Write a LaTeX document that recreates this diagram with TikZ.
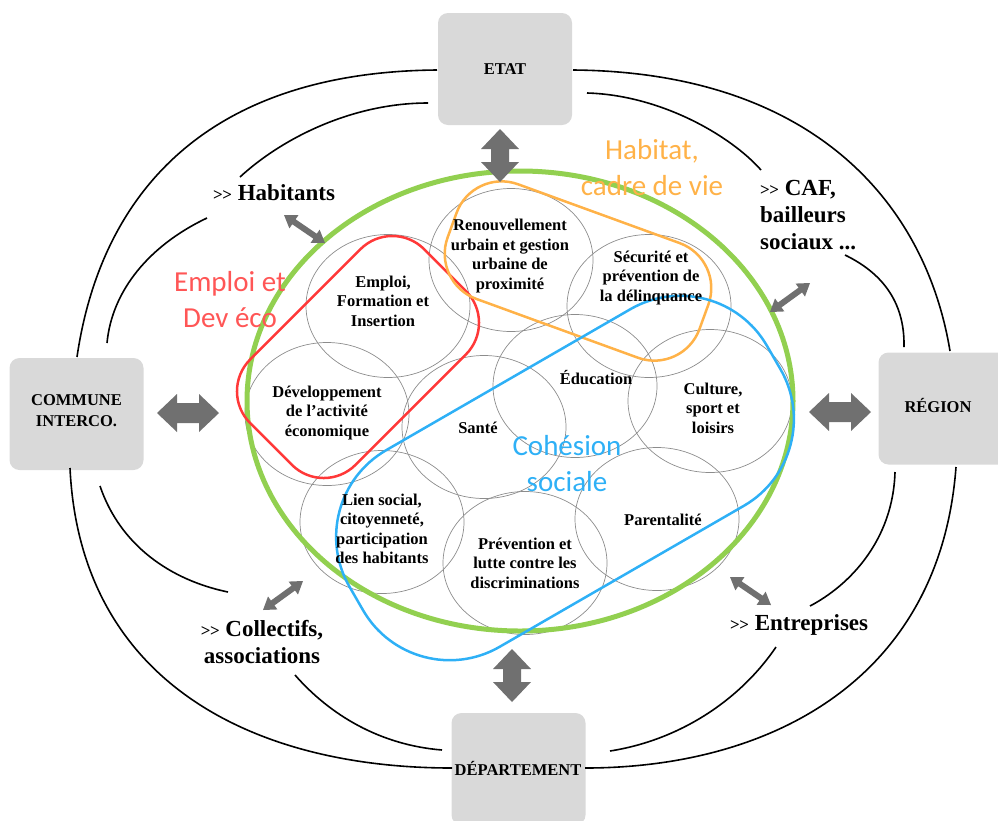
\documentclass[tikz,border=0pt]{standalone}
\usepackage{fontspec}
\setmainfont{Liberation Serif}
\newfontfamily\calib{Carlito}
\usetikzlibrary{shapes.geometric,calc}
\definecolor{boxgray}{RGB}{217,217,217}
\definecolor{arrowgray}{RGB}{112,112,112}
\definecolor{greenc}{RGB}{146,208,80}
\definecolor{redc}{RGB}{255,56,56}
\definecolor{orangec}{RGB}{255,178,72}
\definecolor{bluec}{RGB}{46,176,246}
\definecolor{ringgray}{RGB}{140,140,140}
\newcommand\chevr{{\fontsize{17}{17}\selectfont\bfseries >\kern-0.5pt>}}
% fat double arrow: #1 A, #2 B, #3 head length, #4 head half width, #5 shaft half width
\newcommand\fatdbl[5]{%
  \fill[arrowgray] (#1)
    -- ($(#1)!#3!(#2)!#4!90:(#2)$) -- ($(#1)!#3!(#2)!#5!90:(#2)$)
    -- ($(#2)!#3!(#1)!#5!-90:(#1)$) -- ($(#2)!#3!(#1)!#4!-90:(#1)$)
    -- (#2)
    -- ($(#2)!#3!(#1)!#4!90:(#1)$) -- ($(#2)!#3!(#1)!#5!90:(#1)$)
    -- ($(#1)!#3!(#2)!#5!-90:(#2)$) -- ($(#1)!#3!(#2)!#4!-90:(#2)$)
    -- cycle;}
\begin{document}
\begin{tikzpicture}[x=1pt,y=-1pt,
  box/.style={fill=boxgray, rounded corners=10pt, minimum width=134pt, minimum height=112pt, inner sep=0pt},
  boxtxt/.style={font=\fontsize{16.5}{21}\selectfont\bfseries, align=center, inner sep=0pt},
  topic/.style={ellipse, draw=ringgray, line width=0.7pt, minimum width=164pt, minimum height=143pt, inner sep=0pt},
  topictxt/.style={font=\fontsize{16.5}{19.5}\selectfont\bfseries, align=center, inner sep=0pt},
  actor/.style={font=\fontsize{23}{27}\selectfont\bfseries, inner sep=0pt},
  theme/.style={font=\calib\fontsize{29}{36}\selectfont, align=center, inner sep=0pt},
  stadium/.style={rectangle, line width=2.5pt, inner sep=0pt},
  link/.style={line width=1.6pt, black},
]
\useasboundingbox (0,0) rectangle (998,820);
\clip (0,0) rectangle (998,820);

% topic circles
\node[topic] (renou) at (511,260) {};
\node[topic] (secu)  at (649,306) {};
\node[topic] (empl)  at (388,306) {};
\node[topic] (dev)   at (327,414) {};
\node[topic] (sante) at (484,427) {};
\node[topic] (educ)  at (575,386) {};
\node[topic] (cult)  at (710,401) {};
\node[topic] (lien)  at (382,522) {};
\node[topic] (prev)  at (525,563) {};
\node[topic] (paren) at (657,519) {};

% green ellipse
\node[ellipse, draw=greenc, line width=5pt, minimum width=546pt, minimum height=460pt, inner sep=0pt] (green) at (520,401) {};

% thematic stadiums
\node[stadium, draw=redc, rounded corners=45pt, minimum width=246pt, minimum height=149pt, rotate=45] (redst) at (358,357) {};
\node[stadium, draw=orangec, rounded corners=48pt, minimum width=268pt, minimum height=122pt, rotate=-20] (orst) at (578,271) {};
\node[stadium, draw=bluec, rounded corners=100pt, minimum width=482pt, minimum height=227pt, rotate=30] (bluest) at (565,478) {};

% boxes
\node[box] (etat) at (505,69) {};
\node[boxtxt] (etatt) at (505,69) {ETAT};
\node[box] (commune) at (76.5,414) {};
\node[boxtxt] (communet) at (76.5,411) {COMMUNE\\INTERCO.};
\node[box] (region) at (945.5,408.5) {};
\node[boxtxt] (regiont) at (938,405) {RÉGION};
\node[box] (dept) at (518.5,769) {};
\node[boxtxt] (deptt) at (518,768) {DÉPARTEMENT};

% outer links
\coordinate (ulA) at (437,70);  \coordinate (ulB) at (77,357);
\coordinate (urA) at (573,70);  \coordinate (urB) at (950,351);
\coordinate (llA) at (70,468);  \coordinate (llB) at (452,768);
\coordinate (lrA) at (956,467); \coordinate (lrB) at (585,768);
\draw[link] (ulA) .. controls (200,72) and (100,200) .. (ulB);
\draw[link] (urA) .. controls (810,72) and (925,200) .. (urB);
\draw[link] (llA) .. controls (80,680) and (250,768) .. (llB);
\draw[link] (lrA) .. controls (940,680) and (770,768) .. (lrB);

% inner links
\coordinate (ui1a) at (428,103); \coordinate (ui1b) at (240,177);
\coordinate (ui2a) at (207,218); \coordinate (ui2b) at (107,343);
\coordinate (ri1a) at (587,93);  \coordinate (ri1b) at (761,170);
\coordinate (ri2a) at (845,255); \coordinate (ri2b) at (904,347);
\coordinate (li1a) at (100,486); \coordinate (li1b) at (228,592);
\coordinate (li2a) at (295,675); \coordinate (li2b) at (442,750);
\coordinate (ei1a) at (895,472); \coordinate (ei1b) at (810,606);
\coordinate (ei2a) at (776,647); \coordinate (ei2b) at (610,751);
\draw[link] (ui1a) .. controls (350,103) and (280,140) .. (ui1b);
\draw[link] (ui2a) .. controls (150,245) and (112,290) .. (ui2b);
\draw[link] (ri1a) .. controls (660,95) and (730,135) .. (ri1b);
\draw[link] (ri2a) .. controls (880,272) and (905,300) .. (ri2b);
\draw[link] (li1a) .. controls (120,545) and (170,580) .. (li1b);
\draw[link] (li2a) .. controls (330,715) and (380,745) .. (li2b);
\draw[link] (ei1a) .. controls (893,540) and (850,585) .. (ei1b);
\draw[link] (ei2a) .. controls (740,700) and (680,740) .. (ei2b);

% big arrows
\coordinate (aT1) at (500,129); \coordinate (aT2) at (500,182);
\coordinate (aL1) at (157,413); \coordinate (aL2) at (219,413);
\coordinate (aR1) at (809,412); \coordinate (aR2) at (871,412);
\coordinate (aB1) at (512,649); \coordinate (aB2) at (512,702);
\fatdbl{aT1}{aT2}{20pt}{19pt}{9pt}
\fatdbl{aL1}{aL2}{20pt}{19pt}{10pt}
\fatdbl{aR1}{aR2}{20pt}{19pt}{10pt}
\fatdbl{aB1}{aB2}{20pt}{19pt}{9pt}

% small arrows
\coordinate (sH1) at (284,215); \coordinate (sH2) at (325,243);
\coordinate (sC1) at (770,312); \coordinate (sC2) at (810,283);
\coordinate (sA1) at (263,610); \coordinate (sA2) at (303,581);
\coordinate (sE1) at (730,577); \coordinate (sE2) at (771,605);
\fatdbl{sH1}{sH2}{12pt}{8pt}{3pt}
\fatdbl{sC1}{sC2}{12pt}{8pt}{3pt}
\fatdbl{sA1}{sA2}{12pt}{8pt}{3pt}
\fatdbl{sE1}{sE2}{12pt}{8pt}{3pt}

% topic texts
\node[topictxt] (renout) at (510,256) {Renouvellement\\urbain et gestion\\urbaine de\\proximité};
\node[topictxt] (secut) at (651,278) {Sécurité et\\prévention de\\la délinquance};
\node[topictxt] (emplt) at (383,301) {Emploi,\\Formation et\\Insertion};
\node[topictxt] (devt) at (327,413) {Développement\\de l’activité\\économique};
\node[topictxt] (santet) at (478,428) {Santé};
\node[topictxt] (educt) at (596,378) {Éducation};
\node[topictxt] (cultt) at (713,408) {Culture,\\sport et\\loisirs};
\node[topictxt] (lient) at (382,529) {Lien social,\\citoyenneté,\\participation\\des habitants};
\node[topictxt] (prevt) at (525,563) {Prévention et\\lutte contre les\\discriminations};
\node[topictxt] (parent) at (663,520) {Parentalité};

% actors
\node[actor, anchor=west] (hab) at (213,193) {\chevr{} Habitants};
\node[actor, anchor=west, align=left] (caf) at (760,215) {\chevr{} CAF,\\bailleurs\\sociaux ...};
\node[actor, align=center] (coll) at (262,642) {\chevr{} Collectifs,\\associations};
\node[actor, anchor=west] (entr) at (730,625) {\chevr{} Entreprises};

% themes
\node[theme, text=redc!85] (themeE) at (230,300) {Emploi et\\Dev éco};
\node[theme, text=orangec] (themeH) at (652,168) {Habitat,\\cadre de vie};
\node[theme, text=bluec] (themeC) at (567,464) {Cohésion\\sociale};
\end{tikzpicture}
\end{document}
